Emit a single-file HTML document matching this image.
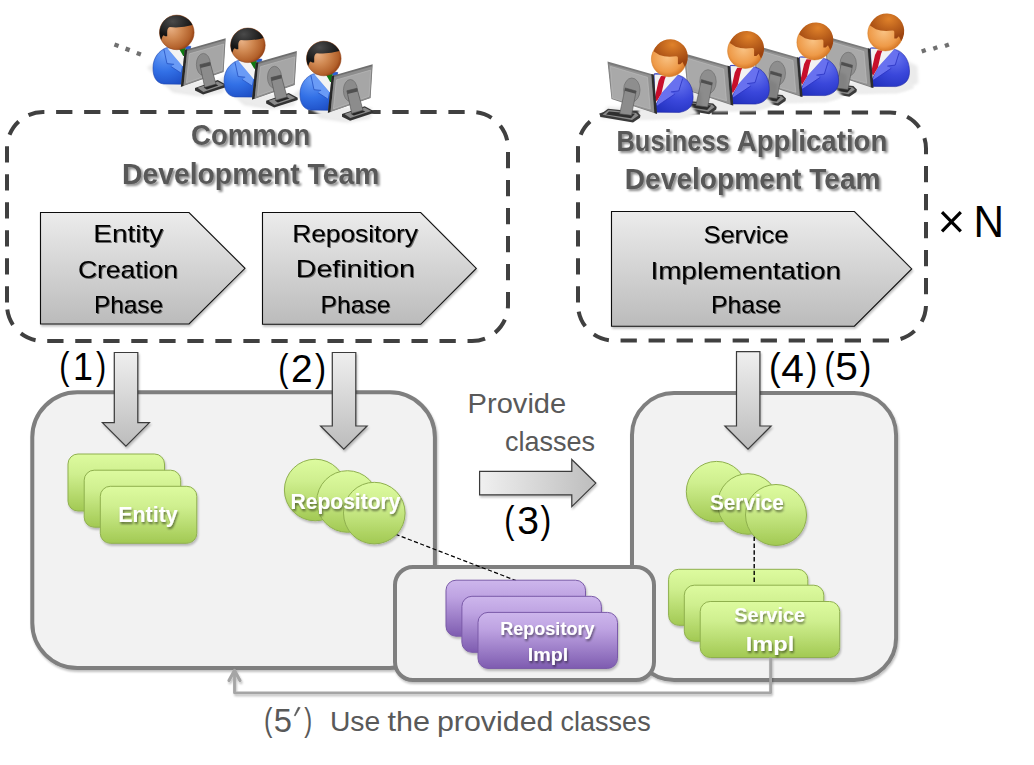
<!DOCTYPE html>
<html><head><meta charset="utf-8"><title>Development Process</title>
<style>
html,body{margin:0;padding:0;background:#fff;width:1034px;height:765px;overflow:hidden}
svg{display:block;font-family:"Liberation Sans",sans-serif}
</style></head><body>
<svg width="1034" height="765" viewBox="0 0 1034 765">
<defs>
  <linearGradient id="gPent" x1="0" y1="0" x2="0" y2="1">
    <stop offset="0" stop-color="#ececec"/><stop offset="1" stop-color="#bbbbbb"/>
  </linearGradient>
  <linearGradient id="gDown" x1="0" y1="0" x2="0" y2="1">
    <stop offset="0" stop-color="#efefef"/><stop offset="1" stop-color="#bcbcbc"/>
  </linearGradient>
  <linearGradient id="gRight" x1="0" y1="0" x2="1" y2="0">
    <stop offset="0" stop-color="#f0f0f0"/><stop offset="1" stop-color="#bdbdbd"/>
  </linearGradient>
  <linearGradient id="gGreen" x1="0" y1="0" x2="0" y2="1">
    <stop offset="0" stop-color="#ddfb9f"/><stop offset="0.35" stop-color="#cfef8f"/><stop offset="1" stop-color="#a2c953"/>
  </linearGradient>
  <linearGradient id="gPurple" x1="0" y1="0" x2="0" y2="1">
    <stop offset="0" stop-color="#cdb6ec"/><stop offset="0.3" stop-color="#bea3e2"/><stop offset="1" stop-color="#7e5cb0"/>
  </linearGradient>
  <filter id="tshadow" x="-10%" y="-20%" width="130%" height="160%">
    <feGaussianBlur in="SourceAlpha" stdDeviation="1"/>
    <feOffset dx="1.5" dy="1.5" result="b"/>
    <feComponentTransfer><feFuncA type="linear" slope="0.45"/></feComponentTransfer>
    <feMerge><feMergeNode/><feMergeNode in="SourceGraphic"/></feMerge>
  </filter>
  <filter id="tshadow2" x="-10%" y="-20%" width="130%" height="160%">
    <feGaussianBlur in="SourceAlpha" stdDeviation="0.7"/>
    <feOffset dx="1" dy="1.2" result="b"/>
    <feComponentTransfer><feFuncA type="linear" slope="0.5"/></feComponentTransfer>
    <feMerge><feMergeNode/><feMergeNode in="SourceGraphic"/></feMerge>
  </filter>
  <filter id="wshadow" x="-10%" y="-20%" width="130%" height="160%">
    <feGaussianBlur in="SourceAlpha" stdDeviation="0.8"/>
    <feOffset dx="1" dy="1.5" result="b"/>
    <feComponentTransfer><feFuncA type="linear" slope="0.5"/></feComponentTransfer>
    <feMerge><feMergeNode/><feMergeNode in="SourceGraphic"/></feMerge>
  </filter>
  <filter id="bshadow" x="-10%" y="-10%" width="125%" height="130%">
    <feGaussianBlur in="SourceAlpha" stdDeviation="1.2"/>
    <feOffset dx="1" dy="2" result="b"/>
    <feComponentTransfer><feFuncA type="linear" slope="0.25"/></feComponentTransfer>
    <feMerge><feMergeNode/><feMergeNode in="SourceGraphic"/></feMerge>
  </filter>

  <radialGradient id="gFaceL" cx="0.38" cy="0.42" r="0.65" fx="0.33" fy="0.38">
    <stop offset="0" stop-color="#e8b084"/><stop offset="0.45" stop-color="#cf8750"/><stop offset="0.85" stop-color="#b2602a"/><stop offset="1" stop-color="#943e12"/>
  </radialGradient>
  <radialGradient id="gHairL" cx="0.4" cy="0.25" r="0.6">
    <stop offset="0" stop-color="#4a4a4a"/><stop offset="1" stop-color="#141414"/>
  </radialGradient>
  <radialGradient id="gBodyL" cx="0.3" cy="0.2" r="0.95">
    <stop offset="0" stop-color="#6a9ef8"/><stop offset="0.5" stop-color="#3270e6"/><stop offset="1" stop-color="#1a48bf"/>
  </radialGradient>
  <radialGradient id="gFaceR" cx="0.45" cy="0.45" r="0.6">
    <stop offset="0" stop-color="#f9c283"/><stop offset="0.7" stop-color="#ee9a48"/><stop offset="1" stop-color="#cf6e1c"/>
  </radialGradient>
  <radialGradient id="gHairR" cx="0.55" cy="0.2" r="0.7">
    <stop offset="0" stop-color="#e0822a"/><stop offset="1" stop-color="#9c4410"/>
  </radialGradient>
  <radialGradient id="gBodyR" cx="0.65" cy="0.25" r="0.9">
    <stop offset="0" stop-color="#6572ee"/><stop offset="0.5" stop-color="#3a47db"/><stop offset="1" stop-color="#2130bd"/>
  </radialGradient>
  <linearGradient id="gMon" x1="0" y1="0" x2="1" y2="1">
    <stop offset="0" stop-color="#b4b4b4"/><stop offset="1" stop-color="#969696"/>
  </linearGradient>
  <g id="pl">
    <path d="M-22 30 L-30 35 L-4 60 L24 64 L47 60 L42 52 L-10 52 Z" fill="#000" fill-opacity="0.085" filter="url(#blur2)"/>
    <path d="M-16 49 L-2 57.5 L20 62.5 L48 58 L48 49 L6 49 Z" fill="#ececec" filter="url(#blur1)"/>
    <path d="M-10.5 15.4 C-17.5 18 -23.8 25 -23.8 35.5 C-23.8 44 -21 50.6 -13 51.6 L5 51.8 L12 24 L14 14 C11 13.4 8 13.8 5 15.2 Z" fill="url(#gBodyL)" stroke="#1d45ae" stroke-width="0.6"/>
    <path d="M-13 16.5 L-9.8 31.2 L-2.7 31.9 L-5.9 34.1 L3.9 40.4 L5.4 33.4 L-9.2 16 Z" fill="#6a9bf6"/>
    <path d="M-13 16.5 L-9.8 31.2 L-2.7 31.9 M-5.9 34.1 L3.9 40.4" stroke="#2550c0" stroke-width="0.8" fill="none"/>
    <path d="M-9.4 15.8 L2.6 16.6 L9 16 L9 35 L5.6 33.6 Z" fill="#f3f3f3"/>
    <path d="M2.4 16.6 L8.8 15.6 L8.8 23.5 L6.4 23.5 Z" fill="#0e7a12"/>
    <circle r="17.3" fill="url(#gFaceL)" stroke="#8f3d0e" stroke-width="0.5"/>
    <path d="M15.64 -7.39 A17.3 17.3 0 1 0 -15.6 7.5 L-14.3 4 L-13.2 2.9 L-11.6 3.9 L-9.6 3.9 L-9.6 -1 Q-9.4 -4.6 -7 -5.3 Q5 -4.2 15.64 -7.39 Z" fill="url(#gHairL)"/>
    <path d="M7.9 17.5 L48.9 5.8 L46.8 39.6 L4.1 54.3 Z" fill="#6e6e6e"/>
    <path d="M7.9 17.5 L10.4 16.9 L6.7 53.5 L4.1 54.3 Z" fill="#262626"/>
    <path d="M10.4 18.6 L48.3 7.8 L46.5 39.2 L6.8 53.2 Z" fill="#8d8d8d"/>
    <path d="M12.6 21.4 L46.9 11.6 L45.3 37.8 L9.6 50.4 Z" fill="#a6a6a6" stroke="#b9b9b9" stroke-width="0.7"/>
    <ellipse cx="26.6" cy="32" rx="7" ry="11" fill="#8b8b8b" stroke="#6c6c6c" stroke-width="0.7"/>
    <path d="M18.2 55.5 L40.9 47.7 L49.8 52.5 L49.8 54.6 L26.3 62.2 L18.2 58.2 Z" fill="#333"/>
    <path d="M20.6 55.4 L40.8 49 L47.4 52.6 L26.6 59.6 Z" fill="#8a8a8a"/>
    <path d="M26.8 55.2 L38.4 51.4 L41.6 53.2 L30 57.1 Z" fill="#262626"/>
    <path d="M23.1 32.3 L33.2 29.8 L39.2 51.7 L27.9 54.9 Z" fill="#8c8c8c" stroke="#4a4a4a" stroke-width="0.6"/>
    <path d="M23.1 32.3 L33.2 29.8 L33.9 33 L23.7 35.6 Z" fill="#505050"/>
  </g>
  <g id="pr">
    <path d="M22 28 L32 33 L33 50 L20 57 L-20 60 L-68 60 L-62 48 L0 50 Z" fill="#000" fill-opacity="0.08" filter="url(#blur2)"/>
    <path d="M-30 50 L22 47 L29 55 L12 60.5 L-32 61 Z" fill="#ededed" filter="url(#blur1)"/>
    <path d="M9.1 16.4 C16 17.5 24 25 24.1 38 C24.2 46 21 52 10.4 53.6 L-13.5 53.4 L-15 15.1 C-13 14.6 -10 14.8 -8 15.4 Z" fill="url(#gBodyR)" stroke="#1e26a2" stroke-width="0.6"/>
    <path d="M9.1 16.4 L13.7 19.7 L9.8 32.1 L1.9 33.1 L5.8 35.3 L-11.8 47.1 L-12.5 45.8 L-7.2 34 Z" fill="#6871ef"/>
    <path d="M13.7 19.7 L9.8 32.1 L1.9 33.1 M5.8 35.3 L-11.8 47.1" stroke="#2a32c2" stroke-width="0.8" fill="none"/>
    <path d="M-14.5 15.6 L8.8 16.2 L-7.2 34 L-13.5 46 Z" fill="#f2f2f2"/>
    <path d="M-8 17.2 L-3 17.4 L-4.4 21 L-7.5 34.5 L-12.3 42.8 L-14.2 39 L-10.4 22 Z" fill="#c70f2c"/>
    <circle cy="0.3" r="17.6" fill="url(#gFaceR)" stroke="#d0761e" stroke-width="0.5"/>
    <path d="M-15.4 -7.6 A17.6 17.6 0 1 1 15.8 8 L14.6 5.5 L13.5 3.2 L11.2 5.5 L8.9 5.5 L8.9 -1.2 Q8.6 -2.6 7 -2.5 Q-3 -1.3 -9.5 -3.7 Z" fill="url(#gHairR)"/>
    <path d="M-61.5 2.8 L-16.8 15.4 L-12.5 55 L-57.5 40.1 Z" fill="#7a7a7a"/>
    <path d="M-17.6 15.2 L-15.2 15.8 L-11.9 55.1 L-14.6 54.3 Z" fill="#2c2c2c"/>
    <path d="M-60.6 5.2 L-18 16.8 L-14.9 53.6 L-57 39.6 Z" fill="#929292"/>
    <path d="M-58.7 7.5 L-21.5 18.5 L-18.7 50.3 L-56.4 39.3 Z" fill="#a9a9a9" stroke="#bdbdbd" stroke-width="0.6"/>
    <ellipse cx="-37.2" cy="31.2" rx="8.2" ry="12" fill="#8e8e8e" stroke="#6e6e6e" stroke-width="0.7"/>
    <path d="M-69 56 L-61 50 L-32 53 L-28.5 56.5 L-29 59 L-36 63.7 L-68.4 58.3 Z" fill="#3a3a3a"/>
    <path d="M-66.5 56 L-60.5 51.3 L-33 54.2 L-30.5 56.6 L-37 61.2 Z" fill="#8a8a8a"/>
    <path d="M-60 52.6 L-34 55 L-38 59.4 L-63 55.6 Z" fill="#2e2e2e"/>
    <path d="M-43.8 29.1 L-32.8 32.2 L-37.5 56.5 L-49.3 55 Z" fill="#8c8c8c" stroke="#555" stroke-width="0.6"/>
    <path d="M-43.8 29.1 L-32.8 32.2 L-33.3 35 L-44.3 32 Z" fill="#4e4e4e"/>
  </g>
  <filter id="blur2" x="-20%" y="-20%" width="140%" height="140%"><feGaussianBlur stdDeviation="1.8"/></filter>
  <filter id="blur1" x="-20%" y="-30%" width="140%" height="160%"><feGaussianBlur stdDeviation="1"/></filter>
</defs>

<!-- ===== people (placeholder) ===== -->


<!-- ===== dashed team boxes ===== -->
<path d="M7 305V148A36 36 0 0 1 43 112H472A36 36 0 0 1 508 148V305A36 36 0 0 1 472 341" fill="none" stroke="#404040" stroke-width="4" stroke-dasharray="16.3 11.72" stroke-dashoffset="25.62"/>
<path d="M472 341H43A36 36 0 0 1 7 305" fill="none" stroke="#404040" stroke-width="4" stroke-dasharray="16.3 11.72" stroke-dashoffset="11.82"/>
<path d="M578 304.6V148.5A36 36 0 0 1 614 112.5H890A36 36 0 0 1 926 148.5V304.6A36 36 0 0 1 890 340.6H614A36 36 0 0 1 578 304.6Z" fill="none" stroke="#404040" stroke-width="4" stroke-dasharray="16.3 11.72" stroke-dashoffset="26.02"/>

<g id="people">
  <g fill="#707070">
    <rect x="114.3" y="43" width="4.4" height="4.4" transform="rotate(20 116.5 45.2)"/>
    <rect x="125.4" y="47.2" width="4.4" height="4.4" transform="rotate(20 127.6 49.4)"/>
    <rect x="136.6" y="51.5" width="4.4" height="4.4" transform="rotate(20 138.8 53.7)"/>
    <rect x="921.6" y="48.7" width="4.2" height="4.2" transform="rotate(-20 923.7 50.8)"/>
    <rect x="933.2" y="45.9" width="4.2" height="4.2" transform="rotate(-20 935.3 48)"/>
    <rect x="944.8" y="43.1" width="4.2" height="4.2" transform="rotate(-20 946.9 45.2)"/>
  </g>
  <use href="#pl" x="176.8" y="32.4"/>
  <use href="#pl" x="247.9" y="45.3"/>
  <use href="#pl" x="323.8" y="58.5"/>
  <use href="#pr" x="885.4" y="33"/>
  <use href="#pr" x="814.5" y="42"/>
  <use href="#pr" x="745.2" y="50.5"/>
  <use href="#pr" x="669" y="58.8"/>
</g>

<!-- titles -->
<g font-weight="bold" font-size="28.8" fill="#595959" filter="url(#tshadow)">
  <text x="191.0" y="145.2" textLength="119.4" lengthAdjust="spacingAndGlyphs">Common</text>
  <text x="122.1" y="183.5" textLength="257.3" lengthAdjust="spacingAndGlyphs">Development Team</text>
  <text id="w_bus" x="616.42" y="150.7" textLength="113.38" lengthAdjust="spacingAndGlyphs">Business</text>
  <text id="w_app" x="736.69" y="150.7" textLength="150.71" lengthAdjust="spacingAndGlyphs">Application</text>
  <text x="624.8" y="188.5" textLength="255.8" lengthAdjust="spacingAndGlyphs">Development Team</text>
</g>

<!-- pentagons -->
<g fill="url(#gPent)" stroke="#111" stroke-width="1.1" filter="url(#bshadow)">
  <path d="M40.5 212.5H189L245 268.3L189 324H40.5Z"/>
  <path d="M262.5 212.5H420.7L476.3 268.4L420.7 324.3H262.5Z"/>
  <path d="M611.5 211.5H854.4L911.7 268.9L854.4 326.2H611.5Z"/>
</g>
<g font-size="24" fill="#000" filter="url(#tshadow2)">
  <text x="93.2" y="242" textLength="70.1" lengthAdjust="spacingAndGlyphs">Entity</text>
  <text x="77.9" y="278" textLength="100.2" lengthAdjust="spacingAndGlyphs">Creation</text>
  <text x="93.9" y="312.7" textLength="69.1" lengthAdjust="spacingAndGlyphs">Phase</text>
  <text x="292.2" y="241.7" textLength="125.8" lengthAdjust="spacingAndGlyphs">Repository</text>
  <text x="295.8" y="277.3" textLength="119.0" lengthAdjust="spacingAndGlyphs">Definition</text>
  <text x="320.6" y="312.9" textLength="69.8" lengthAdjust="spacingAndGlyphs">Phase</text>
  <text x="703.4" y="243.3" textLength="85.0" lengthAdjust="spacingAndGlyphs">Service</text>
  <text x="650.4" y="278.9" textLength="190.7" lengthAdjust="spacingAndGlyphs">Implementation</text>
  <text x="711.0" y="313" textLength="70.1" lengthAdjust="spacingAndGlyphs">Phase</text>
</g>

<!-- x N -->
<path d="M942 212.2L960.8 231.4M942 231.4L960.8 212.2" stroke="#000" stroke-width="3.2"/>
<text x="973.4" y="236.6" font-size="43.5" fill="#000" textLength="30.5" lengthAdjust="spacingAndGlyphs">N</text>

<!-- ===== lower containers ===== -->
<g filter="url(#bshadow)">
<rect x="32.3" y="392.3" width="402.6" height="275.7" rx="45" fill="#f2f2f2" stroke="#7f7f7f" stroke-width="4"/>
<rect x="632" y="393" width="264.1" height="287" rx="42" fill="#f2f2f2" stroke="#7f7f7f" stroke-width="4"/>
<rect x="395" y="567" width="259" height="113" rx="18" fill="#f2f2f2" stroke="#7f7f7f" stroke-width="4"/>
</g>

<!-- down arrows -->
<g fill="url(#gDown)" stroke="#3a3a3a" stroke-width="1.2" filter="url(#bshadow)">
  <path d="M114.3 352.5H137.8V422.6H149.4L125.9 446.1L102.4 422.6H114.3Z"/>
  <path d="M332.3 352.5H355.8V426H367.1L343.8 449.2L320.6 426H332.3Z"/>
  <path d="M736.5 351.6H759.9V426H771.1L748 449.2L724.9 426H736.5Z"/>
</g>
<!-- right arrow -->
<path d="M479.6 471.3H571.8V459.5L595.8 483.1L571.8 506.6V494.8H479.6Z" fill="url(#gRight)" stroke="#3a3a3a" stroke-width="1.2" filter="url(#bshadow)"/>

<!-- labels -->
<g font-size="39" fill="#000">
  <text id="l1_0" x="59.37" y="378.6" textLength="10.22" lengthAdjust="spacingAndGlyphs">(</text>
  <text id="l1_1" x="73.02" y="379.6" textLength="19.92" lengthAdjust="spacingAndGlyphs">1</text>
  <text id="l1_2" x="96.00" y="378.6" textLength="10.22" lengthAdjust="spacingAndGlyphs">)</text>
  <text id="l2_0" x="278.37" y="380.6" textLength="10.22" lengthAdjust="spacingAndGlyphs">(</text>
  <text id="l2_1" x="290.99" y="381.7" textLength="21.61" lengthAdjust="spacingAndGlyphs">2</text>
  <text id="l2_2" x="314.92" y="380.6" textLength="11.15" lengthAdjust="spacingAndGlyphs">)</text>
  <text id="l3_0" x="504.37" y="532.8" textLength="10.22" lengthAdjust="spacingAndGlyphs">(</text>
  <text id="l3_1" x="517.16" y="533.8" textLength="21.77" lengthAdjust="spacingAndGlyphs">3</text>
  <text id="l3_2" x="540.55" y="532.8" textLength="10.76" lengthAdjust="spacingAndGlyphs">)</text>
  <text id="l4_0" x="769.09" y="380.3" textLength="11.69" lengthAdjust="spacingAndGlyphs">(</text>
  <text id="l4_1" x="781.28" y="381.7" textLength="22.63" lengthAdjust="spacingAndGlyphs">4</text>
  <text id="l4_2" x="805.93" y="380.3" textLength="11.43" lengthAdjust="spacingAndGlyphs">)</text>
  <text id="l5_0" x="824.45" y="378.7" textLength="10.08" lengthAdjust="spacingAndGlyphs">(</text>
  <text id="l5_1" x="835.25" y="379.6" textLength="22.61" lengthAdjust="spacingAndGlyphs">5</text>
  <text id="l5_2" x="859.46" y="378.7" textLength="11.94" lengthAdjust="spacingAndGlyphs">)</text>
</g>
<g font-size="28" fill="#595959">
  <text x="467.6" y="412.5" textLength="98.6" lengthAdjust="spacingAndGlyphs">Provide</text>
  <text x="504.9" y="451.1" textLength="90.2" lengthAdjust="spacingAndGlyphs">classes</text>
  <text id="l6_0" x="264.05" y="730.9" font-size="33.6" textLength="8.46" lengthAdjust="spacingAndGlyphs">(</text>
  <text id="l6_1" x="273.76" y="731.6" font-size="33.6" textLength="18.21" lengthAdjust="spacingAndGlyphs">5</text>
  <text id="l6_3" x="304.19" y="730.9" font-size="33.6" textLength="7.91" lengthAdjust="spacingAndGlyphs">)</text>
  <text id="w_use" x="329.94" y="730.7" textLength="50.31" lengthAdjust="spacingAndGlyphs">Use</text>
  <text id="w_the" x="387.59" y="730.7" textLength="42.52" lengthAdjust="spacingAndGlyphs">the</text>
  <text id="w_prov" x="436.96" y="730.7" textLength="116.49" lengthAdjust="spacingAndGlyphs">provided</text>
  <text id="w_cls" x="560.52" y="730.7" textLength="90.16" lengthAdjust="spacingAndGlyphs">classes</text>
</g>
<path d="M298.2 707.3L300.2 707.6L295.2 715.9L294.3 715.6Z" fill="#595959" stroke="#595959" stroke-width="0.6" stroke-linejoin="round"/>

<!-- dashed connectors -->
<line x1="395.5" y1="534.3" x2="516" y2="580.6" stroke="#000" stroke-width="1.2" stroke-dasharray="4.2 2.4"/>

<!-- Entity cards -->
<g fill="url(#gGreen)" stroke="#8fb04e" stroke-width="1" filter="url(#bshadow)">
  <rect x="68" y="454" width="96.5" height="57" rx="10"/>
  <rect x="84.2" y="470.2" width="96.5" height="57" rx="10"/>
  <rect x="100.3" y="486.3" width="96.5" height="57" rx="10"/>
</g>
<!-- Repository circles -->
<g fill="url(#gGreen)" stroke="#8fb04e" stroke-width="1" filter="url(#bshadow)">
  <circle cx="315.2" cy="490" r="30.8"/>
  <circle cx="347.5" cy="501.5" r="30.8"/>
  <circle cx="374.3" cy="513.1" r="30.8"/>
</g>
<!-- Service circles -->
<g fill="url(#gGreen)" stroke="#8fb04e" stroke-width="1" filter="url(#bshadow)">
  <circle cx="716.6" cy="491.7" r="30.3"/>
  <circle cx="748" cy="504" r="30.3"/>
  <circle cx="776" cy="515" r="30.5"/>
</g>
<!-- Service Impl cards -->
<g fill="url(#gGreen)" stroke="#8fb04e" stroke-width="1" filter="url(#bshadow)">
  <rect x="668.6" y="569.3" width="139.2" height="56" rx="10"/>
  <rect x="684.3" y="585.2" width="139.5" height="56" rx="10"/>
  <rect x="700.2" y="601.5" width="139.5" height="56" rx="10"/>
</g>
<line x1="754.2" y1="536.7" x2="754.2" y2="583" stroke="#000" stroke-width="1.4" stroke-dasharray="4.4 2.4"/>
<!-- Repository Impl cards -->
<g fill="url(#gPurple)" stroke="#7a5aa8" stroke-width="1" filter="url(#bshadow)">
  <rect x="446" y="580.2" width="139.5" height="56" rx="10"/>
  <rect x="461.9" y="596.3" width="139.5" height="56" rx="10"/>
  <rect x="478" y="612.4" width="139.5" height="56" rx="10"/>
</g>

<!-- white labels -->
<g font-weight="bold" fill="#fff" filter="url(#wshadow)">
  <text x="118.2" y="521.9" font-size="21.3" textLength="59.5" lengthAdjust="spacingAndGlyphs">Entity</text>
  <text x="290.5" y="509.0" font-size="21.3" textLength="110.0" lengthAdjust="spacingAndGlyphs">Repository</text>
  <text x="710.0" y="509.5" font-size="21.3" textLength="73.7" lengthAdjust="spacingAndGlyphs">Service</text>
  <text x="734.3" y="622" font-size="21" textLength="70.8" lengthAdjust="spacingAndGlyphs">Service</text>
  <text x="745.8" y="651" font-size="21" textLength="48.4" lengthAdjust="spacingAndGlyphs">Impl</text>
  <text x="500.2" y="634.9" font-size="18.4" textLength="94.3" lengthAdjust="spacingAndGlyphs">Repository</text>
  <text x="527.7" y="660.8" font-size="18.4" textLength="40.5" lengthAdjust="spacingAndGlyphs">Impl</text>
</g>

<!-- return line -->
<g filter="url(#bshadow)">
<path d="M770.6 657.5V692.8H234.5V671" fill="none" stroke="#a5a5a5" stroke-width="2.8" stroke-linejoin="round"/>
<path d="M229 680.5L234.5 670.5L240 680.5" fill="none" stroke="#a5a5a5" stroke-width="3.2" stroke-linecap="round" stroke-linejoin="round"/>
</g>

</svg>
</body></html>
